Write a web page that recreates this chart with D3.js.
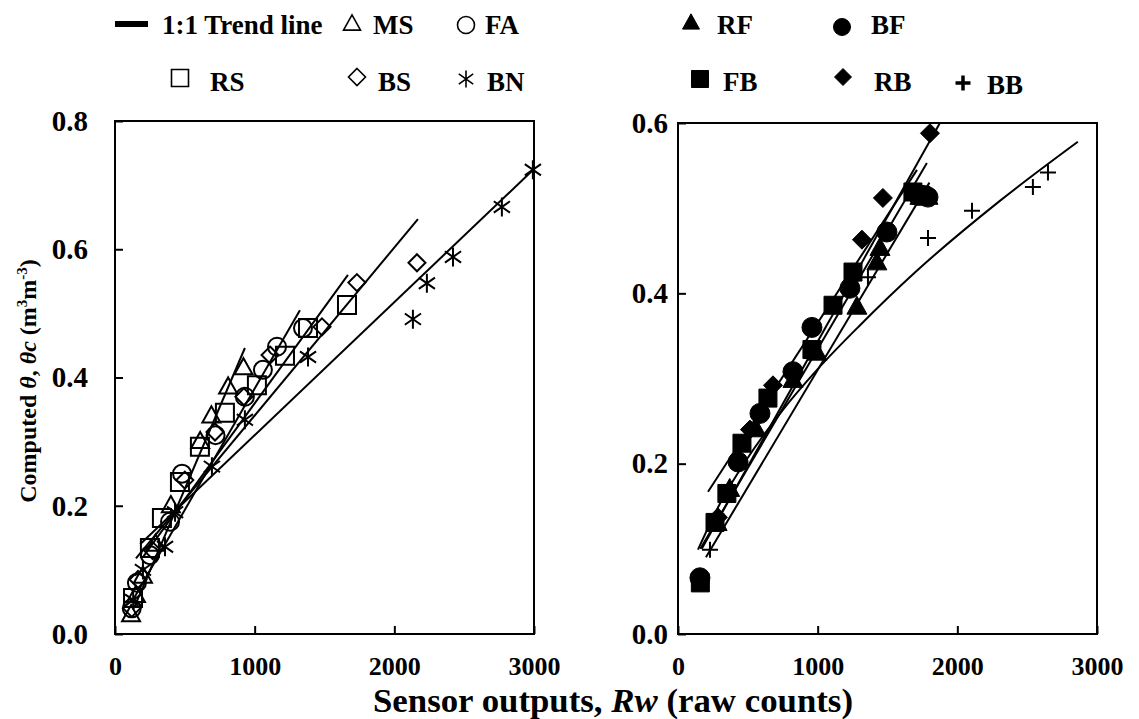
<!DOCTYPE html>
<html>
<head>
<meta charset="utf-8">
<script src="https://cdn.jsdelivr.net/npm/d3@7"></script>
<style>
  html, body { margin: 0; padding: 0; background: #fff; }
  svg { display: block; }
  text { font-family: "Liberation Serif", "Times New Roman", serif; font-weight: bold; fill: #000; }
</style>
</head>
<body>
<svg id="chart" width="1139" height="719"></svg>
<script>
// ---------- Data ----------
// Left panel series: Rw (raw counts) and computed θ (m3 m-3)
const msX = [115, 150, 200, 290, 400, 610, 690, 810, 920];
const msY = [0.03, 0.06, 0.09, 0.14, 0.20, 0.30, 0.34, 0.385, 0.415];
const faX = [120, 157, 250, 394, 480, 720, 930, 1059, 1160, 1346];
const faY = [0.04, 0.08, 0.123, 0.175, 0.25, 0.31, 0.37, 0.412, 0.448, 0.477];
const rsX = [129, 250, 336, 465, 608, 787, 1016, 1217, 1382, 1661];
const rsY = [0.056, 0.134, 0.181, 0.237, 0.292, 0.345, 0.388, 0.434, 0.477, 0.513];
const bsX = [120, 165, 270, 500, 716, 923, 1110, 1482, 1732, 2162];
const bsY = [0.04, 0.085, 0.13, 0.24, 0.315, 0.37, 0.435, 0.479, 0.548, 0.579];
const bnX = [130, 200, 358, 430, 694, 930, 1382, 2133, 2233, 2420, 2770, 2992];
const bnY = [0.053, 0.10, 0.136, 0.19, 0.261, 0.334, 0.432, 0.491, 0.547, 0.588, 0.666, 0.724];

// Right panel series
const rfX = [280, 370, 560, 823, 995, 1281, 1424, 1446, 1732, 1790];
const rfY = [0.13, 0.17, 0.24, 0.298, 0.33, 0.384, 0.436, 0.453, 0.513, 0.513];
const bfX = [157, 430, 587, 823, 959, 1231, 1496, 1720, 1754, 1790];
const bfY = [0.066, 0.202, 0.259, 0.308, 0.36, 0.406, 0.472, 0.515, 0.515, 0.513];
const fbX = [160, 265, 350, 458, 644, 959, 1110, 1253, 1682, 1740];
const fbY = [0.06, 0.131, 0.165, 0.224, 0.277, 0.334, 0.386, 0.425, 0.519, 0.515];
const rbX = [286, 515, 680, 1317, 1467, 1804];
const rbY = [0.137, 0.24, 0.292, 0.463, 0.512, 0.588];
const bbX = [229, 1360, 1790, 2105, 2541, 2649];
const bbY = [0.099, 0.419, 0.465, 0.497, 0.525, 0.542];

// Trend lines, as points: [[x, θ], ...]
const leftTrend = [
  [[135, 0.04], [930, 0.446]],                  // MS
  [[120, 0.05], [1324, 0.505]],                 // FA
  [[200, 0.12], [1668, 0.56]],                  // RS
  [[150, 0.118], [2169, 0.647]],                // BS
  [[180, 0.14], [3000, 0.725]]                  // BN
];
const rightTrend = [
  [[170, 0.10], [1875, 0.60]],                  // RB
  [[160, 0.10], [1782, 0.553]],                 // FB
  [[200, 0.09], [1800, 0.53]],                  // RF
  [[215, 0.167], [1711, 0.545]],                // BF
  [[143, 0.099], [300, 0.153], [500, 0.207], [750, 0.263], [1000, 0.311],
   [1300, 0.362], [1700, 0.425], [2300, 0.508], [2863, 0.578]] // BB
];

const xTicks = [0, 1000, 2000, 3000];
const yTicksLeft = [0, 0.2, 0.4, 0.6, 0.8];
const yTicksRight = [0, 0.2, 0.4, 0.6];

// ---------- Drawing ----------
const svg = d3.select("#chart");

const xL = d3.scaleLinear().domain([0, 3000]).range([115, 534]);
const yL = d3.scaleLinear().domain([0, 0.8]).range([634, 121]);
const xR = d3.scaleLinear().domain([0, 3000]).range([678, 1097]);
const yR = d3.scaleLinear().domain([0, 0.6]).range([634, 123]);

function drawPanel(x, y, yTicks, trends, yPad) {
  const g = svg.append("g");
  g.append("rect")
    .attr("x", x.range()[0]).attr("y", y.range()[1])
    .attr("width", x.range()[1] - x.range()[0])
    .attr("height", y.range()[0] - y.range()[1])
    .attr("fill", "none").attr("stroke", "#000").attr("stroke-width", 2);

  const xa = g.append("g").attr("transform", `translate(0,${y.range()[0]})`)
    .call(d3.axisBottom(x).tickValues(xTicks).tickSizeInner(-8).tickSizeOuter(0).tickPadding(23).tickFormat(d3.format("d")));
  xa.select(".domain").remove();
  xa.selectAll("line").attr("stroke-width", 2);
  xa.selectAll("text").attr("font-size", 26).attr("fill", "#000")
    .attr("font-family", "Liberation Serif").attr("font-weight", "bold");

  const ya = g.append("g").attr("transform", `translate(${x.range()[0]},0)`)
    .call(d3.axisLeft(y).tickValues(yTicks).tickSizeInner(-8).tickSizeOuter(0).tickPadding(yPad).tickFormat(d3.format(".1f")));
  ya.select(".domain").remove();
  ya.selectAll("line").attr("stroke-width", 2);
  ya.selectAll("text").attr("font-size", 29).attr("fill", "#000")
    .attr("font-family", "Liberation Serif").attr("font-weight", "bold");

  const line = d3.line().x(d => x(d[0])).y(d => y(d[1])).curve(d3.curveMonotoneX);
  g.selectAll("path.trend").data(trends).enter().append("path")
    .attr("class", "trend")
    .attr("d", line)
    .attr("fill", "none")
    .attr("stroke", "#000").attr("stroke-width", 2);
  return g;
}

const gL = drawPanel(xL, yL, yTicksLeft, leftTrend, 27);
const gR = drawPanel(xR, yR, yTicksRight, rightTrend, 10);

// marker path generators (centered at 0,0)
const shapes = {
  triangle: s => { const h = s * 0.9; return `M0,${-h*0.6}L${s/2},${h*0.4}L${-s/2},${h*0.4}Z`; },
  circle: s => { const r = s / 2; return `M${r},0A${r},${r} 0 1,1 ${-r},0A${r},${r} 0 1,1 ${r},0Z`; },
  square: s => { const h = s / 2; return `M${-h},${-h}H${h}V${h}H${-h}Z`; },
  diamond: s => { const h = s / 2; return `M0,${-h}L${h},0L0,${h}L${-h},0Z`; },
  asterisk: s => { const h = s / 2, a = h * 0.85; return `M0,${-h}V${h}M${-a},${-a*0.7}L${a},${a*0.7}M${-a},${a*0.7}L${a},${-a*0.7}`; },
  plus: s => { const h = s / 2; return `M0,${-h}V${h}M${-h},0H${h}`; }
};

function drawSeries(g, x, y, xs, ys, shape, size, filled) {
  const pts = xs.map((v, i) => [v, ys[i]]);
  g.selectAll(null).data(pts).enter().append("path")
    .attr("d", shapes[shape](size))
    .attr("transform", d => `translate(${x(d[0])},${y(d[1])})`)
    .attr("fill", filled ? "#000" : "none")
    .attr("stroke", "#000")
    .attr("stroke-width", filled ? 1 : 2);
}

drawSeries(gL, xL, yL, msX, msY, "triangle", 18, false);
drawSeries(gL, xL, yL, faX, faY, "circle", 18, false);
drawSeries(gL, xL, yL, rsX, rsY, "square", 18, false);
drawSeries(gL, xL, yL, bsX, bsY, "diamond", 17, false);
drawSeries(gL, xL, yL, bnX, bnY, "asterisk", 19, false);

drawSeries(gR, xR, yR, rfX, rfY, "triangle", 20, true);
drawSeries(gR, xR, yR, bfX, bfY, "circle", 20, true);
drawSeries(gR, xR, yR, fbX, fbY, "square", 18, true);
drawSeries(gR, xR, yR, rbX, rbY, "diamond", 19, true);
drawSeries(gR, xR, yR, bbX, bbY, "plus", 16, false);

// ---------- Legend ----------
const legend = svg.append("g");
const legFont = 27;
legend.append("line").attr("x1", 115).attr("x2", 148).attr("y1", 24).attr("y2", 24)
  .attr("stroke", "#000").attr("stroke-width", 6);
const legItems = [
  { shape: "triangle", filled: false, mx: 352, my: 24, tx: 373, ty: 34, label: "MS" },
  { shape: "circle", filled: false, mx: 466, my: 25, tx: 485, ty: 34, label: "FA" },
  { shape: "triangle", filled: true, mx: 691, my: 23, tx: 717, ty: 34, label: "RF" },
  { shape: "circle", filled: true, mx: 842, my: 27, tx: 871, ty: 34, label: "BF" },
  { shape: "square", filled: false, mx: 180, my: 78, tx: 210, ty: 91, label: "RS" },
  { shape: "diamond", filled: false, mx: 357, my: 77, tx: 378, ty: 91, label: "BS" },
  { shape: "asterisk", filled: false, mx: 466, my: 79, tx: 487, ty: 91, label: "BN" },
  { shape: "square", filled: true, mx: 700, my: 79, tx: 723, ty: 91, label: "FB" },
  { shape: "diamond", filled: true, mx: 843, my: 77, tx: 874, ty: 91, label: "RB" },
  { shape: "plus", filled: false, mx: 963, my: 83, tx: 987, ty: 94, label: "BB" }
];
legend.append("text").attr("x", 162).attr("y", 34).attr("font-size", legFont).text("1:1 Trend line");
legItems.forEach(d => {
  legend.append("path").attr("d", shapes[d.shape](d.shape === "plus" ? 15 : 17))
    .attr("transform", `translate(${d.mx},${d.my})`)
    .attr("fill", d.filled ? "#000" : "none").attr("stroke", "#000")
    .attr("stroke-width", d.filled ? 1 : (d.shape === "plus" ? 3.5 : 1.6));
  legend.append("text").attr("x", d.tx).attr("y", d.ty).attr("font-size", legFont).text(d.label);
});

// ---------- Axis titles ----------
const xt = svg.append("text").attr("x", 613).attr("y", 712).attr("text-anchor", "middle")
  .attr("font-size", 33).attr("textLength", 480).attr("lengthAdjust", "spacingAndGlyphs");
xt.append("tspan").text("Sensor outputs, ");
xt.append("tspan").attr("font-style", "italic").text("Rw");
xt.append("tspan").text(" (raw counts)");

const yt = svg.append("text").attr("transform", "translate(36,381) rotate(-90)")
  .attr("text-anchor", "middle").attr("font-size", 24);
yt.append("tspan").text("Computed ");
yt.append("tspan").attr("font-style", "italic").text("θ");
yt.append("tspan").text(", ");
yt.append("tspan").attr("font-style", "italic").text("θc");
yt.append("tspan").text(" (m");
yt.append("tspan").attr("font-size", 15).attr("dy", -9).text("3");
yt.append("tspan").attr("dy", 9).text("m");
yt.append("tspan").attr("font-size", 15).attr("dy", -9).text("-3");
yt.append("tspan").attr("dy", 9).text(")");
</script>
</body>
</html>
